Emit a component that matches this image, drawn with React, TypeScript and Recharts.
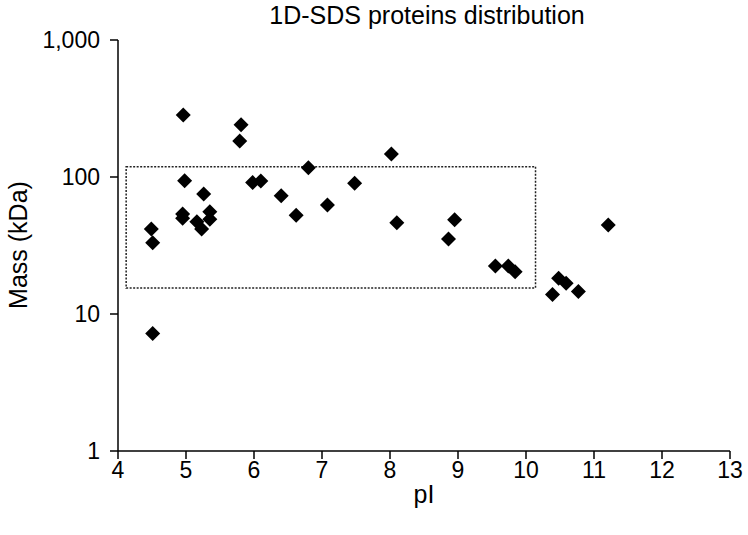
import { ScatterChart, Scatter, XAxis, YAxis, ReferenceArea, Label } from 'recharts'

// pI of each protein spot
const pIValues = [
  4.96, 4.98, 5.26, 5.81, 5.79, 6.8, 5.98, 6.1, 6.4, 7.48, 7.08, 6.62, 4.95, 4.95, 5.16, 5.23, 5.35,
  5.35, 4.49, 4.51, 4.51, 8.02, 8.1, 8.95, 8.86, 9.55, 9.74, 9.84, 11.21, 10.48, 10.59, 10.39, 10.77,
]
// molecular mass (kDa)
const massValues = [
  284, 94, 75, 241, 183, 117, 91, 93.5, 73, 90, 62.5, 52.5, 53.7, 50, 47.2, 41.7, 55.8,
  49.1, 41.7, 33.1, 7.2, 147, 46.4, 48.8, 35.3, 22.4, 22.4, 20.3, 44.6, 18.2, 16.8, 13.9, 14.6,
]
const xTicks = [4, 5, 6, 7, 8, 9, 10, 11, 12, 13]
const yTicks = [1, 10, 100, 1000]
// dotted window
const boxPI = [4.12, 10.14]
const boxMass = [15.5, 119]

const data = pIValues.map((p, i) => ({ pI: p, mass: massValues[i] }))

const FONT = '"Liberation Sans", Arial, sans-serif'

const Diamond = (props: any) => {
  const { cx, cy } = props
  const r = 7.5
  return (
    <polygon
      points={`${cx},${cy - r} ${cx + r},${cy} ${cx},${cy + r} ${cx - r},${cy}`}
      fill="#000"
    />
  )
}

export default function App() {
  return (
    <div style={{ position: 'absolute', left: 0, top: 0, width: 748, height: 535, background: '#fff' }}>
      <div
        style={{
          position: 'absolute',
          left: 118,
          width: 618,
          top: 1,
          textAlign: 'center',
          fontFamily: FONT,
          fontSize: 25,
          color: '#000',
        }}
      >
        1D-SDS proteins distribution
      </div>
      <ScatterChart width={748} height={535} margin={{ top: 40, right: 18, bottom: 0, left: 0 }}>
        <XAxis
          type="number"
          dataKey="pI"
          domain={[4, 13]}
          ticks={xTicks}
          interval={0}
          height={84}
          tickSize={8}
          tickMargin={3}
          stroke="#000"
          strokeWidth={1.5}
          tick={{ fill: '#000', fontSize: 23, fontFamily: FONT }}
        >
          <Label value="pI" position="insideBottom" offset={32} fill="#000" fontSize={25} fontFamily={FONT} />
        </XAxis>
        <YAxis
          type="number"
          dataKey="mass"
          scale="log"
          domain={[1, 1000]}
          ticks={yTicks}
          interval={0}
          allowDataOverflow
          width={118}
          tickSize={8}
          tickMargin={10}
          stroke="#000"
          strokeWidth={1.5}
          tickFormatter={(v: number) => v.toLocaleString('en-US')}
          tick={{ fill: '#000', fontSize: 23, fontFamily: FONT }}
        >
          <Label
            content={() => (
              <text
                x={20}
                y={245}
                transform="rotate(-90 20 245)"
                textAnchor="middle"
                dominantBaseline="middle"
                fill="#000"
                fontSize={25}
                fontFamily={FONT}
              >
                Mass (kDa)
              </text>
            )}
          />
        </YAxis>
        <ReferenceArea
          x1={boxPI[0]}
          x2={boxPI[1]}
          y1={boxMass[0]}
          y2={boxMass[1]}
          fill="none"
          fillOpacity={0}
          stroke="#222"
          strokeWidth={1.5}
          strokeDasharray="2 1.5"
        />
        <Scatter data={data} shape={<Diamond />} isAnimationActive={false} />
      </ScatterChart>
    </div>
  )
}
